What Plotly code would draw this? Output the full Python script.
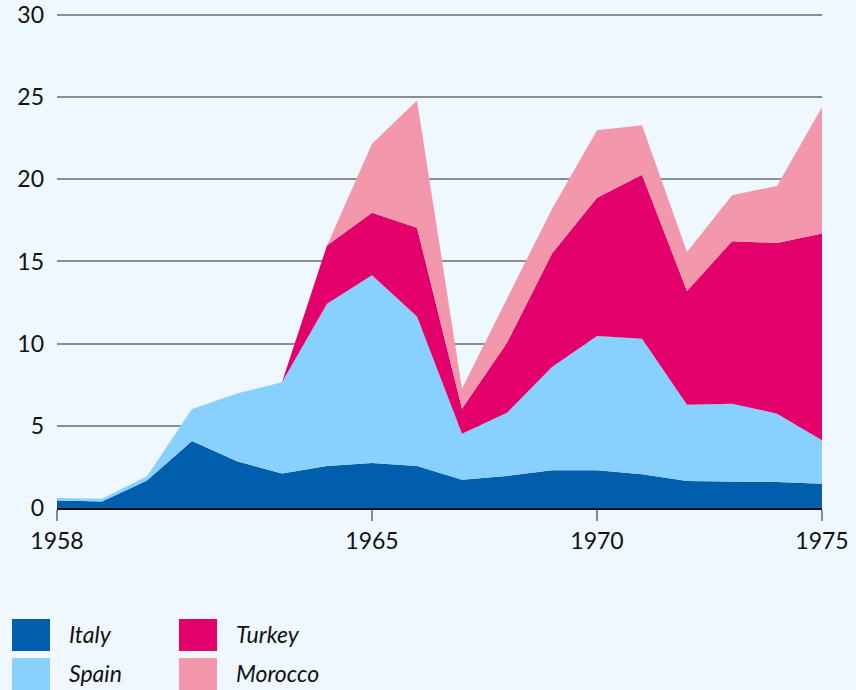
import plotly.graph_objects as go

years = list(range(1958, 1976))
italy = [0.46, 0.40, 1.68, 4.08, 2.84, 2.10, 2.56, 2.74, 2.56, 1.72, 1.95, 2.29, 2.29, 2.05, 1.64, 1.62, 1.58, 1.48]
spain = [0.15, 0.17, 0.25, 1.95, 4.13, 5.55, 9.87, 11.42, 9.10, 2.80, 3.85, 6.29, 8.18, 8.25, 4.65, 4.73, 4.16, 2.64]
turkey = [0, 0, 0, 0, 0, 0, 3.55, 3.81, 5.40, 1.52, 4.26, 6.90, 8.41, 9.98, 6.91, 9.88, 10.39, 12.58]
morocco = [0, 0, 0, 0, 0, 0, 0, 4.20, 7.74, 1.22, 2.68, 2.72, 4.10, 3.01, 2.38, 2.80, 3.47, 7.70]

series_names = ["Italy", "Spain", "Turkey", "Morocco"]
series_values = [italy, spain, turkey, morocco]
colors = ["#005EAD", "#88D1FF", "#E4006B", "#F397AD"]

x_ticks = [1958, 1965, 1970, 1975]
y_ticks = [0, 5, 10, 15, 20, 25, 30]

BG = "#EEF8FE"
FONT = "Lato"

fig = go.Figure()
for name, vals, col in zip(series_names, series_values, colors):
    fig.add_trace(go.Scatter(
        x=years, y=vals, name=name, mode="lines",
        stackgroup="one", line=dict(width=0, color=col),
        fillcolor=col, showlegend=False, hoverinfo="x+y+name",
    ))

# plot area in page pixels (body margin removed)
W, H = 856, 690
PX0, PX1, PY0, PY1 = 57, 822, 13, 508
YTOP = 30.12  # so that the 30 gridline sits just inside the top edge

def px(x):
    return (x - PX0) / (PX1 - PX0)
def py(y):
    return (PY1 - y) / (PY1 - PY0)

legend_pos = [(12, 619), (12, 658), (179, 619), (179, 658)]
for (lx, ly), name, col in zip(legend_pos, series_names, colors):
    fig.add_shape(type="rect", xref="paper", yref="paper",
                  x0=px(lx), x1=px(lx + 38), y0=py(ly), y1=py(ly + 32),
                  fillcolor=col, line=dict(width=0), layer="above")
    fig.add_annotation(text=name, xref="paper", yref="paper",
                       x=px(lx + 55), y=py(ly + 15),
                       xanchor="left", yanchor="middle", showarrow=False,
                       font=dict(family=FONT, size=23, color="#111111", style="italic"))

fig.update_layout(
    width=W, height=H,
    margin=dict(l=PX0, r=W - PX1, t=PY0, b=H - PY1, autoexpand=False),
    paper_bgcolor=BG, plot_bgcolor=BG,
    font=dict(family=FONT, size=22, color="#111111"),
    showlegend=False,
    xaxis=dict(range=[1958, 1975], tickvals=x_ticks, ticktext=[str(v) for v in x_ticks],
               automargin=False,
               showgrid=False, zeroline=False, showline=True, linecolor="#111111", linewidth=2,
               ticks="outside", ticklen=11, tickwidth=1.5, tickcolor="#888c91",
               tickfont=dict(family=FONT, size=23, color="#111111")),
    yaxis=dict(range=[0, YTOP], tickvals=y_ticks, showgrid=True, gridcolor="#8a8e93", gridwidth=1.6,
               automargin=False,
               zeroline=False, showline=False, ticks="", ticklabelstandoff=12,
               ticklabeloverflow="allow",
               tickfont=dict(family=FONT, size=23, color="#111111")),
)

fig.write_html("out.html", config={"displayModeBar": False},
               post_script="document.body.style.margin='0';document.body.style.overflow='hidden';")
